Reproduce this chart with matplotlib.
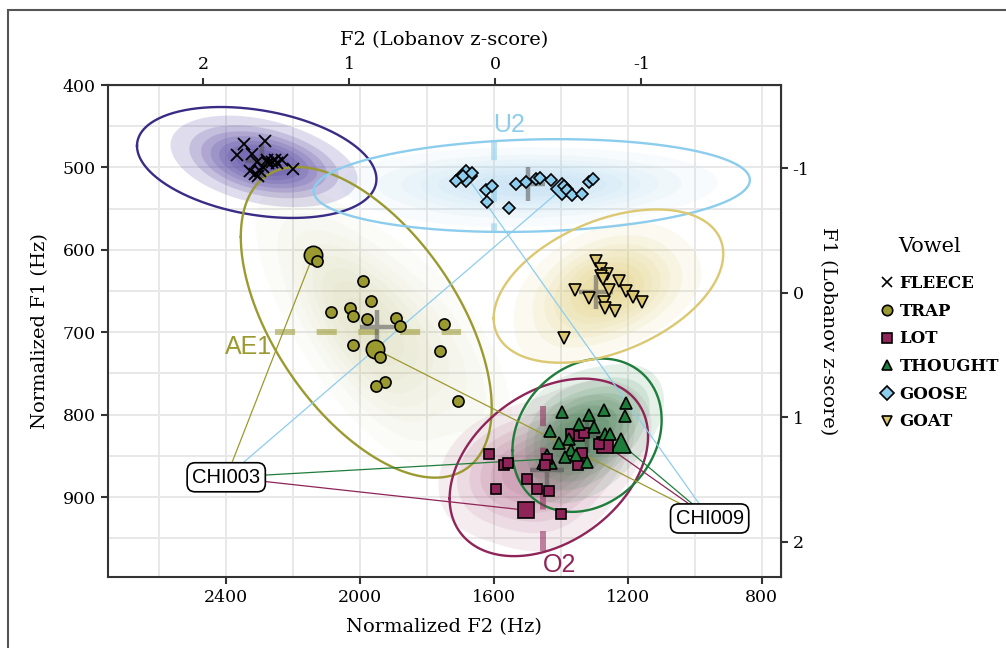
# vowel space plot: normalized F1/F2 with Lobanov z-score secondary axes
import numpy as np
import matplotlib
matplotlib.use("Agg")
import matplotlib.pyplot as plt
from matplotlib.lines import Line2D
from matplotlib.patches import Rectangle

plt.rcParams['font.family'] = ['DejaVu Serif']
plt.rcParams['axes.unicode_minus'] = False
plt.rcParams['lines.scale_dashes'] = False

vowels = ['FLEECE', 'TRAP', 'LOT', 'THOUGHT', 'GOOSE', 'GOAT']
vowel_colors = ['#3a2b85', '#9b9a30', '#8e2457', '#1f7d3b', '#8ccdee', '#dcc870']
density_colors = ['#4f3f9e', '#b8b670', '#9a3a68', '#2f8a4a', '#8fcbec', '#d8c050']
density_alpha = [0.8, 0.3, 0.55, 0.65, 0.4, 0.5]
vowel_markers = ['x', 'o', 's', '^', 'D', 'v']
marker_sizes = [9, 8, 7, 9, 6.5, 9]

# token measurements (Hz)
fleece_f2 = [2346, 2282, 2366, 2321, 2307, 2327, 2302, 2287, 2272, 2277, 2262, 2252, 2232, 2247, 2198, 2312, 2297]
fleece_f1 = [472, 468, 485, 484, 494, 504, 510, 500, 495, 491, 493, 491, 491, 495, 502, 508, 504]
trap_f2 = [2128, 1990, 1967, 2086, 2029, 2019, 1979, 1890, 1878, 2019, 1940, 1749, 1761, 1925, 1950, 1707]
trap_f1 = [613, 638, 662, 676, 670, 680, 684, 683, 693, 715, 730, 690, 723, 760, 765, 783]
lot_f2 = [1370, 1345, 1330, 1285, 1335, 1439, 1446, 1613, 1568, 1558, 1499, 1593, 1469, 1434, 1399, 1347]
lot_f1 = [824, 826, 822, 836, 847, 854, 861, 848, 861, 859, 878, 890, 890, 893, 921, 861]
thought_f2 = [1395, 1315, 1271, 1204, 1208, 1345, 1300, 1431, 1374, 1266, 1404, 1253, 1370, 1387, 1355, 1320]
thought_f1 = [797, 801, 794, 786, 802, 811, 815, 820, 829, 823, 835, 824, 843, 851, 849, 857]
goose_f2 = [1712, 1692, 1664, 1622, 1605, 1620, 1553, 1533, 1504, 1474, 1462, 1429, 1390, 1380, 1365, 1337, 1315, 1303]
goose_f1 = [516, 510, 507, 528, 522, 542, 549, 520, 518, 514, 513, 515, 522, 528, 534, 532, 518, 514]
goat_f2 = [1294, 1278, 1261, 1280, 1274, 1226, 1256, 1206, 1184, 1158, 1357, 1315, 1271, 1268, 1238, 1390]
goat_f1 = [613, 623, 629, 632, 636, 638, 649, 650, 657, 663, 649, 659, 663, 671, 674, 707]
token_f2 = [fleece_f2, trap_f2, lot_f2, thought_f2, goose_f2, goat_f2]
token_f1 = [fleece_f1, trap_f1, lot_f1, thought_f1, goose_f1, goat_f1]

# reference population ellipses: mean, sd and correlation per vowel
ell_f2 = [2307, 1980, 1435, 1321, 1486, 1257]
ell_f1 = [494, 688, 864, 825, 522, 644]
ell_sd_f2 = [146, 153, 121, 91, 266, 140]
ell_sd_f1 = [27.5, 77, 44, 38, 23, 38]
ell_rho = [-0.3, -0.55, 0.35, 0.2, 0.12, 0.42]
kernel_rho = [-0.4, -0.7, 0.35, 0.3, 0.1, 0.45]

# child vowel means (grey crosses)
cross_f2 = [2290, 1949, 1440, 1320, 1497, 1295]
cross_f1 = [492, 694, 867, 826, 520, 651]

# speaker means linked to labels
speakers = ['CHI003', 'CHI009']
speaker_f2 = [2398, 955]
speaker_f1 = [876, 926]
mean_vowel = ['TRAP', 'GOOSE', 'THOUGHT', 'LOT']
chi003_f2 = [2138, 1396, 1440, 1502]
chi003_f1 = [606, 526, 854, 916]
chi009_f2 = [1955, 1682, 1221, 1266]
chi009_f1 = [720, 510, 835, 837]

# target phoneme reference lines
targets = ['U2', 'AE1', 'O2']
target_vowel = ['GOOSE', 'TRAP', 'LOT']
target_f2 = [[1600, 1600], [2252, 1696], [1452, 1452]]
target_f1 = [[467, 579], [700, 700], [790, 971]]
target_text_f2 = [1600, 2262, 1452]
target_text_f1 = [449, 718, 983]
target_ha = ['left', 'right', 'left']

fig = plt.figure(figsize=(10.06, 6.48), dpi=100)
ax = fig.add_axes([0.107, 0.1096, 0.669, 0.7592])

g2 = np.linspace(700, 2800, 420)
g1 = np.linspace(380, 1020, 260)
G2, G1 = np.meshgrid(g2, g1)


def kde(x, y, sx, sy, r):
    cov = np.array([[sx ** 2, r * sx * sy], [r * sx * sy, sy ** 2]])
    inv = np.linalg.inv(cov)
    dens = np.zeros_like(G2)
    for xi, yi in zip(x, y):
        d2 = G2 - xi
        d1 = G1 - yi
        q = inv[0, 0] * d2 ** 2 + 2 * inv[0, 1] * d2 * d1 + inv[1, 1] * d1 ** 2
        dens += np.exp(-0.5 * q)
    return dens / dens.max()


# stacked filled bands, so the core gets darker
levels = np.linspace(0.08, 0.92, 8)
for i, v in enumerate(vowels):
    d = kde(token_f2[i], token_f1[i], 0.8 * ell_sd_f2[i], 0.8 * ell_sd_f1[i], kernel_rho[i])
    a = 1 - (1 - density_alpha[i]) ** (1 / len(levels))
    for lv in levels:
        ax.contourf(G2, G1, d, levels=[lv, 2], colors=[density_colors[i]], alpha=a,
                    antialiased=True, zorder=1)

# 95% ellipses
t = np.linspace(0, 2 * np.pi, 300)
k = np.sqrt(-2 * np.log(0.05))
for i, v in enumerate(vowels):
    sx, sy, r = ell_sd_f2[i], ell_sd_f1[i], ell_rho[i]
    cov = np.array([[sx ** 2, r * sx * sy], [r * sx * sy, sy ** 2]])
    L = np.linalg.cholesky(cov)
    pts = L @ np.vstack([np.cos(t), np.sin(t)]) * k
    ax.plot(ell_f2[i] + pts[0], ell_f1[i] + pts[1], color=vowel_colors[i], lw=1.7, zorder=3)

# target lines and labels
for i, tg in enumerate(targets):
    c = vowel_colors[vowels.index(target_vowel[i])]
    ax.plot(target_f2[i], target_f1[i], color=c, alpha=0.55, lw=4.3,
            dashes=(14.5, 15.5), solid_capstyle='butt', zorder=4)
    ax.text(target_text_f2[i], target_text_f1[i], tg, color=c, fontsize=18,
            family='Liberation Sans', ha=target_ha[i], va='center', zorder=4)

ax.plot(cross_f2, cross_f1, ls='none', marker='+', ms=25, mew=3.2,
        color='#555555', alpha=0.55, zorder=4)

# connectors from speaker labels to their means
for s, (mf2, mf1) in enumerate([(chi003_f2, chi003_f1), (chi009_f2, chi009_f1)]):
    for j, v in enumerate(mean_vowel):
        i = vowels.index(v)
        ax.plot([speaker_f2[s], mf2[j]], [speaker_f1[s], mf1[j]], color=vowel_colors[i],
                lw=0.9, zorder=5)
        ax.plot(mf2[j], mf1[j], ls='none', marker=vowel_markers[i], ms=marker_sizes[i] * 1.65,
                mfc=vowel_colors[i], mec='black', mew=1.2, zorder=6)

for i, v in enumerate(vowels):
    if vowel_markers[i] == 'x':
        ax.plot(token_f2[i], token_f1[i], ls='none', marker='x', ms=marker_sizes[i],
                color='black', mew=1.3, zorder=7)
    else:
        ax.plot(token_f2[i], token_f1[i], ls='none', marker=vowel_markers[i], ms=marker_sizes[i],
                mfc=vowel_colors[i], mec='black', mew=1.2, zorder=7)

for s, sp in enumerate(speakers):
    ax.text(speaker_f2[s], speaker_f1[s], sp, family='Liberation Sans', fontsize=14.5,
            ha='center', va='center', zorder=9,
            bbox=dict(boxstyle='round,pad=0.25,rounding_size=0.4', fc='white', ec='black', lw=1.2))

ax.set_xlim(2752, 743)
ax.set_ylim(997, 400)
ax.set_xticks([2400, 2000, 1600, 1200, 800])
ax.set_xticks([2600, 2200, 1800, 1400, 1000], minor=True)
ax.set_yticks([400, 500, 600, 700, 800, 900])
ax.set_yticks([450, 550, 650, 750, 850, 950], minor=True)
ax.grid(True, which='both', color='#e8e8e8', lw=1.4)
ax.set_axisbelow(True)
ax.tick_params(which='minor', length=0)
ax.tick_params(which='major', length=5, width=1.5, color='#333333', labelsize=12.5)
for sp in ax.spines.values():
    sp.set_color('#333333')
    sp.set_linewidth(1.5)
ax.set_xlabel('Normalized F2 (Hz)', fontsize=14, labelpad=9)
ax.set_ylabel('Normalized F1 (Hz)', fontsize=14, labelpad=10)

top = ax.secondary_xaxis('top', functions=(lambda f: (f - 1595) / 436, lambda z: 1595 + 436 * z))
top.set_xticks([2, 1, 0, -1])
top.tick_params(length=5, width=1.5, color='#333333', labelsize=12.5)
top.set_xlabel('F2 (Lobanov z-score)', fontsize=14, labelpad=8)
right = ax.secondary_yaxis('right', functions=(lambda f: (f - 652) / 151, lambda z: 652 + 151 * z))
right.set_yticks([-1, 0, 1, 2])
right.tick_params(length=5, width=1.5, color='#333333', labelsize=12.5)
right.set_ylabel('F1 (Lobanov z-score)', fontsize=14, rotation=-90, labelpad=20)

handles = []
for i, v in enumerate(vowels):
    if vowel_markers[i] == 'x':
        handles.append(Line2D([], [], ls='none', marker='x', color='black', ms=7, mew=1.2, label=v))
    else:
        handles.append(Line2D([], [], ls='none', marker=vowel_markers[i], mfc=vowel_colors[i],
                              mec='black', mew=1.2, ms=7.5, label=v))
leg = fig.legend(handles=handles, loc='upper left', bbox_to_anchor=(0.875, 1 - 275 / 648),
                 frameon=False, fontsize=12, handlelength=0.8, borderaxespad=0, borderpad=0,
                 handletextpad=0.35, labelspacing=0.64)
for txt in leg.get_texts():
    txt.set_fontweight('bold')
fig.text(898 / 1006, 1 - 247 / 648, 'Vowel', fontsize=15, ha='left', va='center')

fig.patches.append(Rectangle((8 / 1006, -0.1), 1.2, 1.1 - 10 / 648, transform=fig.transFigure,
                             fill=False, ec='#555555', lw=1.5))

fig.savefig('out.png', dpi=100)
